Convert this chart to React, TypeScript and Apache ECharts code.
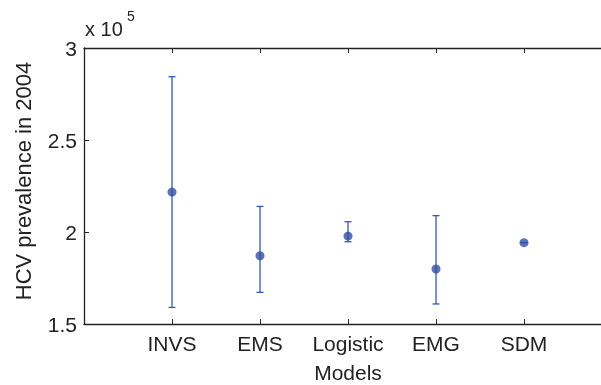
import React, { useEffect, useRef } from "react";
import * as echarts from "echarts";

const categories = ["INVS", "EMS", "Logistic", "EMG", "SDM"];
const positions = [1, 2, 3, 4, 5];
const estimates = [221700, 187100, 197800, 179900, 194200];
const lower = [159000, 167200, 194700, 160900, 194200];
const upper = [284400, 213900, 205600, 208900, 194200];
const yTicks = [150000, 200000, 250000, 300000];

const FONT = "Liberation Sans, Arial, Helvetica, sans-serif";
const LINE_BLUE = "#3557bd";
const DOT_BLUE = "#2f4fa6";
const TEXT = "#222";
const FS = 21;

export default function App() {
  const ref = useRef<HTMLDivElement>(null);
  useEffect(() => {
    if (!ref.current) return;
    const chart = echarts.init(ref.current, undefined, { renderer: "svg" });
    const errData = positions.map((p, i) => [p, lower[i], upper[i]]);
    const ptData = positions.map((p, i) => [p, estimates[i]]);
    chart.setOption({
      animation: false,
      grid: {
        left: 84,
        top: 48,
        width: 528,
        height: 276,
        containLabel: false,
        outerBoundsMode: "none",
      },
      graphic: [
        {
          type: "text",
          left: 85,
          top: 19,
          style: { text: "x 10", font: `20px ${FONT}`, fill: TEXT },
        },
        {
          type: "text",
          left: 127,
          top: 9,
          style: { text: "5", font: `14px ${FONT}`, fill: TEXT },
        },
      ],
      xAxis: [
        {
          type: "value",
          min: 0,
          max: 6,
          interval: 1,
          position: "bottom",
          name: "Models",
          nameLocation: "middle",
          nameGap: 38,
          nameTextStyle: { fontFamily: FONT, fontSize: FS, color: TEXT },
          axisLine: { lineStyle: { color: "#222", width: 1.3 } },
          axisTick: { inside: true, length: 5, lineStyle: { color: "#222" } },
          splitLine: { show: false },
          axisLabel: {
            margin: 9,
            fontFamily: FONT,
            fontSize: FS,
            color: TEXT,
            formatter: (v: number) => {
              const i = positions.indexOf(v);
              return i >= 0 ? categories[i] : "";
            },
          },
        },
        {
          type: "value",
          min: 0,
          max: 6,
          interval: 1,
          position: "top",
          axisLine: { show: true, lineStyle: { color: "#222", width: 1.3 } },
          axisTick: { inside: true, length: 5, lineStyle: { color: "#222" } },
          axisLabel: { show: false },
          splitLine: { show: false },
        },
      ],
      yAxis: {
        type: "value",
        min: 150000,
        max: 300000,
        interval: 50000,
        name: "HCV prevalence in 2004",
        nameLocation: "middle",
        nameGap: 50,
        nameTextStyle: {
          fontFamily: FONT,
          fontSize: 22,
          color: TEXT,
          padding: [0, 0, 0, 10],
        },
        axisLine: { show: true, lineStyle: { color: "#222", width: 1.3 } },
        axisTick: { show: true, inside: true, length: 5, lineStyle: { color: "#222" } },
        splitLine: { show: false },
        axisLabel: {
          margin: 7,
          fontFamily: FONT,
          fontSize: FS,
          color: TEXT,
          formatter: (v: number) => (yTicks.includes(v) ? String(v / 100000) : ""),
        },
      },
      series: [
        {
          type: "custom",
          data: errData,
          renderItem: (params: any, api: any) => {
            const x = api.value(0);
            const lo = api.coord([x, api.value(1)]);
            const hi = api.coord([x, api.value(2)]);
            const hw = 3.5;
            const style = { stroke: LINE_BLUE, lineWidth: 1.3 };
            return {
              type: "group",
              children: [
                { type: "line", shape: { x1: lo[0], y1: lo[1], x2: hi[0], y2: hi[1] }, style },
                { type: "line", shape: { x1: lo[0] - hw, y1: lo[1], x2: lo[0] + hw, y2: lo[1] }, style },
                { type: "line", shape: { x1: hi[0] - hw, y1: hi[1], x2: hi[0] + hw, y2: hi[1] }, style },
              ],
            };
          },
          z: 2,
        },
        {
          type: "scatter",
          data: ptData,
          symbol: "circle",
          symbolSize: 9,
          itemStyle: { color: DOT_BLUE },
          z: 3,
        },
      ],
    });
    return () => chart.dispose();
  }, []);
  return (
    <div style={{ position: "fixed", left: 0, top: 0, width: 601, height: 385, overflow: "hidden" }}>
      <div ref={ref} style={{ width: 601, height: 385 }} />
    </div>
  );
}
